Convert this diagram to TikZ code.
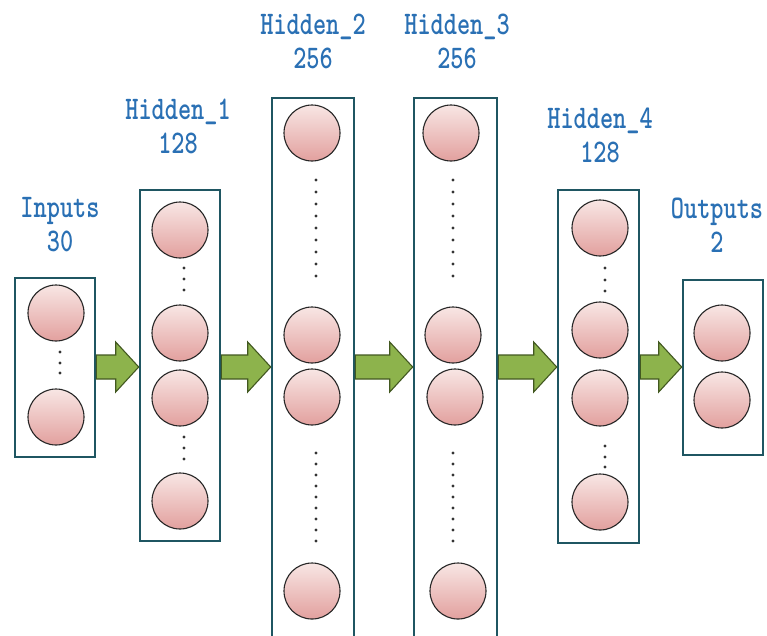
\documentclass[tikz,border=0pt]{standalone}
\usepackage{fontspec}
\usetikzlibrary{calc}
\definecolor{boxteal}{RGB}{31,86,98}
\definecolor{labblue}{RGB}{42,112,180}
\definecolor{nodetop}{RGB}{248,230,228}
\definecolor{nodebot}{RGB}{226,160,158}
\definecolor{arrowfill}{RGB}{141,179,76}
\definecolor{arrowedge}{RGB}{66,88,32}
\tikzset{
  layerbox/.style={draw=boxteal, line width=2.6pt, fill=white, inner sep=0pt},
  neuron/.style={circle, draw=black!85, line width=1.1pt, minimum size=56pt, inner sep=0pt,
                 top color=nodetop, bottom color=nodebot},
  dotmark/.style={circle, fill=black!80, minimum size=3.2pt, inner sep=0pt},
  layertitle/.style={text=labblue, align=center, xscale=0.76, transform shape,
                     font=\ttfamily\bfseries\fontsize{33}{34}\selectfont},
  fatarrow/.style={fill=arrowfill, draw=arrowedge, line width=1.1pt, line join=miter}
}
% thick block arrow from the right side of one layer to the left side of the next
\newcommand\layerarrow[2]{%
  \draw[fatarrow] let \p1=(#1.east), \p2=(#2.west), \p3=(midline), \n1={\x2-23pt} in
    (\x1,\y3+12pt) -- (\n1,\y3+12pt) -- (\n1,\y3+25pt) -- (\x2,\y3)
    -- (\n1,\y3-25pt) -- (\n1,\y3-12pt) -- (\x1,\y3-12pt) -- cycle;}
\begin{document}
\begin{tikzpicture}[x=1pt, y=-1pt]
\useasboundingbox (0,0) rectangle (767,635);
\coordinate (midline) at (0,367);

% layer frames
\node[layerbox, minimum width=80pt, minimum height=179pt] (in)  at (55,367.5) {};
\node[layerbox, minimum width=80pt, minimum height=351pt] (h1)  at (180,365.5) {};
\node[layerbox, minimum width=82pt, minimum height=542pt] (h2)  at (313,369) {};
\node[layerbox, minimum width=83pt, minimum height=542pt] (h3)  at (455.5,369) {};
\node[layerbox, minimum width=81pt, minimum height=353pt] (h4)  at (598.5,366.5) {};
\node[layerbox, minimum width=80pt, minimum height=175pt] (out) at (723,367.5) {};

% titles
\node[layertitle] (tin)  at (60,225)  {Inputs\\30};
\node[layertitle] (th1)  at (178,126) {Hidden\_1\\128};
\node[layertitle] (th2)  at (313,41)  {Hidden\_2\\256};
\node[layertitle] (th3)  at (457,41)  {Hidden\_3\\256};
\node[layertitle] (th4)  at (600,135) {Hidden\_4\\128};
\node[layertitle] (tout) at (717,225) {Outputs\\2};

% input layer
\node[neuron] (in1) at (56,313) {};
\node[neuron] (in2) at (56,417) {};
\foreach \y [count=\i] in {352,363,373} \node[dotmark] (ind\i) at (60,\y) {};

% hidden layer 1
\foreach \y [count=\i] in {230,333,398,501} \node[neuron] (ha\i) at (180,\y) {};
\foreach \y [count=\i] in {268,279,290,437,448,459} \node[dotmark] (had\i) at (184,\y) {};

% hidden layer 2
\foreach \y [count=\i] in {133,335,397,591} \node[neuron] (hb\i) at (312,\y) {};
\foreach \y [count=\i] in {180,192,204,216,228,240,252,264,276,453,464,475,486,497,508,519,530,541}
  \node[dotmark] (hbd\i) at (316,\y) {};

% hidden layer 3
\foreach \y/\x [count=\i] in {133/451,335/453,397/455,591/458} \node[neuron] (hc\i) at (\x,\y) {};
\foreach \y [count=\i] in {180,192,204,216,228,240,252,264,276,453,464,475,486,497,508,519,530,541}
  \node[dotmark] (hcd\i) at (453,\y) {};

% hidden layer 4
\foreach \y [count=\i] in {228,330,398,502} \node[neuron] (hd\i) at (600,\y) {};
\foreach \y [count=\i] in {268,280,291,446,457,467} \node[dotmark] (hdd\i) at (605,\y) {};

% output layer
\node[neuron] (out1) at (722,333) {};
\node[neuron] (out2) at (722,400) {};

% connections between layers
\layerarrow{in}{h1}
\layerarrow{h1}{h2}
\layerarrow{h2}{h3}
\layerarrow{h3}{h4}
\layerarrow{h4}{out}
\end{tikzpicture}
\end{document}
